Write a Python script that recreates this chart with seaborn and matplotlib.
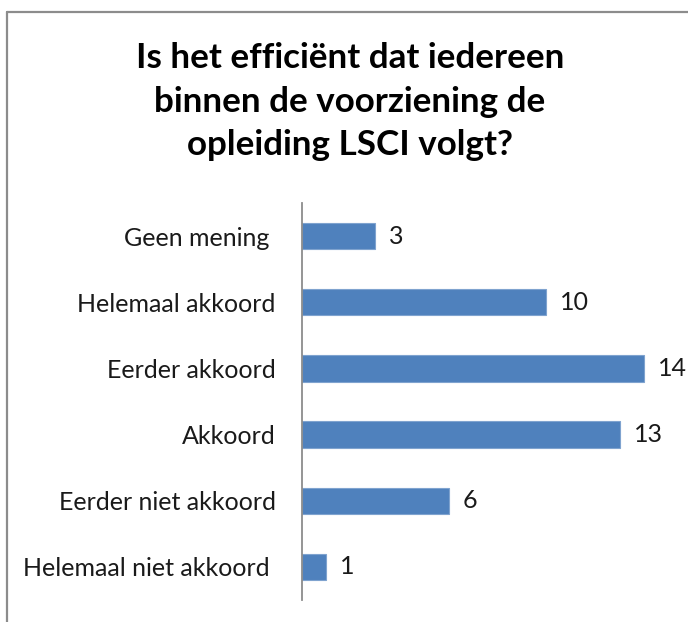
import matplotlib
matplotlib.use("Agg")
import matplotlib.pyplot as plt
import seaborn as sns
import pandas as pd
from matplotlib.lines import Line2D

# labels as typed in the source chart (two carry a trailing space)
categories = ['Geen mening ', 'Helemaal akkoord', 'Eerder akkoord', 'Akkoord',
              'Eerder niet akkoord', 'Helemaal niet akkoord ']
values = [3, 10, 14, 13, 6, 1]
title_lines = ['Is het efficiënt dat iedereen', 'binnen de voorziening de', 'opleiding LSCI volgt?']

sns.set_style("white")
plt.rcParams['font.family'] = ['Lato', 'DejaVu Sans']

W, H = 688, 622
fig = plt.figure(figsize=(W / 100, H / 100), dpi=100)

# plot area in pixels: axis line x=302, y from 203 to 600
ax = fig.add_axes([302 / W, (H - 600) / H, 1 - 302 / W, (600 - 203) / H])

df = pd.DataFrame({'cat': categories, 'val': values})
sns.barplot(data=df, x='val', y='cat', orient='h', color='#4F81BD',
            width=0.4, edgecolor='#7FA3CF', linewidth=0.8, saturation=1, ax=ax)

ax.set_xlim(0, (W - 302) / 24.43)
ax.set_ylim(5.5, -0.5)
ax.set_xlabel('')
ax.set_ylabel('')
ax.set_xticks([])
ax.tick_params(axis='y', length=0, pad=19, labelsize=18, labelcolor='#1a1a1a')
for s in ['top', 'right', 'bottom']:
    ax.spines[s].set_visible(False)
ax.spines['left'].set_color('#8c8c8c')
ax.spines['left'].set_linewidth(1.3)

for c in ax.containers:
    ax.bar_label(c, padding=10, fontsize=18, color='#1a1a1a')

# title
for i, line in enumerate(title_lines):
    fig.text(350 / W, 1 - (68 + i * 43.5) / H, line, ha='center', va='baseline',
             fontsize=25.2, fontweight='bold', color='black')

# outer chart border (top and left edges visible)
fig.add_artist(Line2D([7 / W, 1], [1 - 12 / H, 1 - 12 / H], transform=fig.transFigure,
                      color='#8c8c8c', lw=1.6))
fig.add_artist(Line2D([7 / W, 7 / W], [0, 1 - 12 / H], transform=fig.transFigure,
                      color='#8c8c8c', lw=1.6))

fig.savefig('out.png', dpi=100)
